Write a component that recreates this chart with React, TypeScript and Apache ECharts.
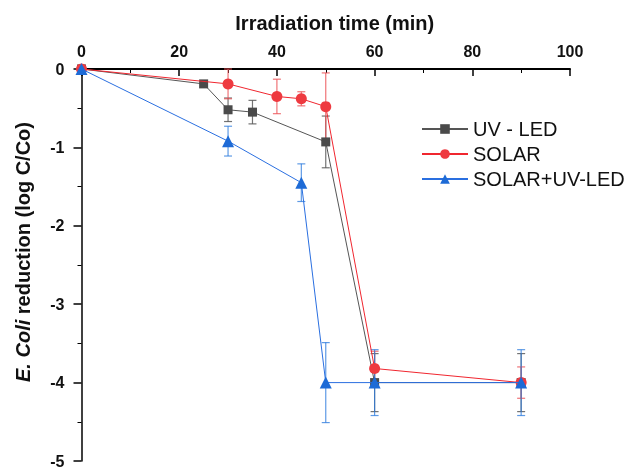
import { useEffect, useRef } from "react";
import * as echarts from "echarts";

const xTicks = [0, 20, 40, 60, 80, 100];
const uvX = [0, 25, 30, 35, 50, 60, 90];
const uvY = [0, -0.19, -0.52, -0.55, -0.93, -4.0, -4.0];
const uvErr = [0, 0, 0.15, 0.15, 0.33, 0.37, 0.37];
const solarX = [0, 30, 40, 45, 50, 60, 90];
const solarY = [0, -0.19, -0.35, -0.38, -0.48, -3.82, -4.0];
const solarErr = [0.05, 0.19, 0.22, 0.09, 0.43, 0.22, 0.2];
const comboX = [0, 30, 45, 50, 60, 90];
const comboY = [0, -0.92, -1.45, -4.0, -4.0, -4.0];
const comboErr = [0, 0.19, 0.24, 0.51, 0.42, 0.42];

const FONT = "Liberation Sans, Arial, sans-serif";

function pts(xs: number[], ys: number[]) {
  return xs.map((x, i) => [x, ys[i]]);
}
function errs(xs: number[], ys: number[], es: number[]) {
  return xs.map((x, i) => [x, ys[i] - es[i], ys[i] + es[i]]).filter((_, i) => es[i] > 0);
}

function errSeries(name: string, data: number[][], color: string) {
  return {
    type: "custom",
    name: name + "_err",
    z: 1,
    silent: true,
    data,
    renderItem: (params: any, api: any) => {
      const x = api.value(0);
      const lo = api.coord([x, api.value(1)]);
      const hi = api.coord([x, api.value(2)]);
      const w = 4;
      const style = { stroke: color, lineWidth: 1.2 };
      return {
        type: "group",
        children: [
          { type: "line", shape: { x1: lo[0], y1: lo[1], x2: hi[0], y2: hi[1] }, style },
          { type: "line", shape: { x1: lo[0] - w, y1: lo[1], x2: lo[0] + w, y2: lo[1] }, style },
          { type: "line", shape: { x1: hi[0] - w, y1: hi[1], x2: hi[0] + w, y2: hi[1] }, style },
        ],
      };
    },
  };
}

export default function App() {
  const ref = useRef<HTMLDivElement>(null);
  useEffect(() => {
    const chart = echarts.init(ref.current!, null, { renderer: "svg" });
    chart.setOption({
      animation: false,
      textStyle: { fontFamily: FONT },
      grid: { left: 81.5, top: 69, right: 62, bottom: 3 },
      legend: {
        left: 416,
        top: 114,
        orient: "vertical",
        itemWidth: 46,
        itemHeight: 12,
        itemGap: 5,
        textStyle: { fontSize: 20, fontFamily: FONT, color: "#111" },
        data: ["UV - LED", "SOLAR", "SOLAR+UV-LED"],
      },
      xAxis: {
        type: "value",
        position: "top",
        min: xTicks[0],
        max: xTicks[xTicks.length - 1],
        interval: 20,
        name: "Irradiation time (min)",
        nameLocation: "middle",
        nameGap: 36,
        nameTextStyle: { fontSize: 20, fontWeight: "bold", color: "#111", fontFamily: FONT, padding: [0, 0, 0, 18] },
        axisLine: { lineStyle: { color: "#000", width: 2 } },
        axisTick: { inside: true, length: 7, lineStyle: { width: 1.5, color: "#000" } },
        minorTick: { show: true, splitNumber: 2, length: 4, lineStyle: { color: "#000", width: 1 } },
        splitLine: { show: false },
        axisLabel: { fontSize: 16, fontWeight: "bold", color: "#111", margin: 10, fontFamily: FONT },
      },
      yAxis: {
        type: "value",
        min: -5,
        max: 0,
        interval: 1,
        offset: 4,
        name: "{i|E. Coli} {b|reduction (log C/Co)}",
        nameLocation: "middle",
        nameGap: 45,
        nameRotate: 90,
        nameTextStyle: {
          fontSize: 20,
          color: "#111",
          padding: [0, 0, 0, 26],
          rich: {
            i: { fontSize: 20, fontWeight: "bold", fontStyle: "italic", color: "#111", fontFamily: FONT },
            b: { fontSize: 20, fontWeight: "bold", color: "#111", fontFamily: FONT },
          },
        },
        axisLine: { show: true, lineStyle: { color: "#000", width: 1.5 } },
        axisTick: { show: true, inside: false, length: 8, lineStyle: { width: 1.5, color: "#000" } },
        minorTick: { show: true, splitNumber: 2, length: 4, lineStyle: { color: "#000", width: 1 } },
        splitLine: { show: false },
        axisLabel: { fontSize: 16, fontWeight: "bold", color: "#111", margin: 13, fontFamily: FONT },
      },
      series: [
        errSeries("UV - LED", errs(uvX, uvY, uvErr), "rgba(80,80,80,0.8)"),
        errSeries("SOLAR", errs(solarX, solarY, solarErr), "rgba(235,80,85,0.8)"),
        errSeries("SOLAR+UV-LED", errs(comboX, comboY, comboErr), "rgba(40,120,220,0.75)"),
        {
          type: "line",
          name: "UV - LED",
          data: pts(uvX, uvY),
          symbol: "rect",
          symbolSize: 9,
          z: 3,
          lineStyle: { color: "#555", width: 1 },
          itemStyle: { color: "#4a4a4a" },
        },
        {
          type: "line",
          name: "SOLAR",
          data: pts(solarX, solarY),
          symbol: "circle",
          symbolSize: 11,
          z: 4,
          lineStyle: { color: "#f0262f", width: 1 },
          itemStyle: { color: "#ee3a40" },
        },
        {
          type: "line",
          name: "SOLAR+UV-LED",
          data: pts(comboX, comboY),
          symbol: "triangle",
          symbolSize: 12,
          z: 5,
          lineStyle: { color: "#2a6fe0", width: 1 },
          itemStyle: { color: "#1e6bd6" },
        },
      ],
    });
    return () => chart.dispose();
  }, []);
  return <div ref={ref} style={{ position: "fixed", left: 0, top: 0, width: 632, height: 469 }} />;
}
